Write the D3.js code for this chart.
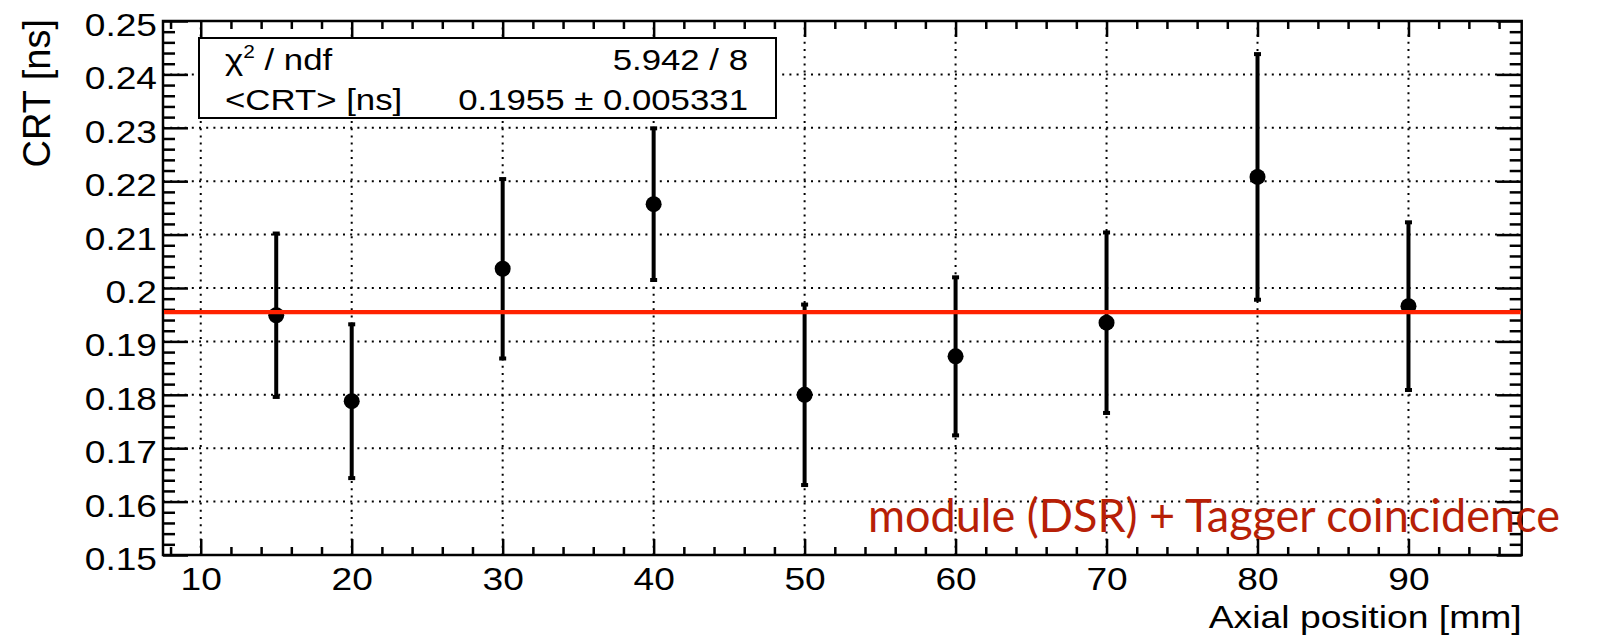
<!DOCTYPE html>
<html>
<head>
<meta charset="utf-8">
<script src="https://cdn.jsdelivr.net/npm/d3@7/dist/d3.min.js"></script>
<style>
  html, body { margin: 0; padding: 0; background: #fff; }
  svg { display: block; }
  text { font-family: "Liberation Sans", Arial, Helvetica, sans-serif; fill: #000; }
  text.caption { font-family: Lato, "Open Sans", sans-serif; fill: #b71f07; }
</style>
</head>
<body>
<script>
// Measured CRT per axial position, with fit of a constant
const positions = [15, 20, 30, 40, 50, 60, 70, 80, 90];
const crtValues = [0.1949, 0.1788, 0.2036, 0.2157, 0.1800, 0.1872, 0.1935, 0.2208, 0.1966];
const crtErrors = [0.0153, 0.0144, 0.0168, 0.0142, 0.0169, 0.0148, 0.0169, 0.0230, 0.0157];

const fitMean = 0.1955;
const fitMeanErr = 0.005331;
const chi2 = 5.942;
const ndf = 8;

const xMajorTicks = [10, 20, 30, 40, 50, 60, 70, 80, 90];
const yMajorTicks = [0.15, 0.16, 0.17, 0.18, 0.19, 0.20, 0.21, 0.22, 0.23, 0.24, 0.25];

const xTitle = "Axial position [mm]";
const yTitle = "CRT [ns]";
const statLabels = ["/ ndf", "<CRT> [ns]"];
const caption = "module (DSR) + Tagger coincidence";

const W = 1599, H = 640;
const frame = { left: 163, right: 1521.7, top: 21, bottom: 555 };
const stretch = 1.16;

const svg = d3.select("body").append("svg").attr("width", W).attr("height", H);

const x = d3.scaleLinear().domain([7.5, 97.5]).range([frame.left, frame.right]);
const y = d3.scaleLinear().domain([0.15, 0.25]).range([frame.bottom, frame.top]);

const xMinorTicks = d3.range(8, 97.5, 2).filter(v => v % 10 !== 0);
const yMinorTicks = d3.range(0, 51).map(i => 0.15 + i * 0.002)
  .filter(v => Math.abs(Math.round(v * 100) - v * 100) > 1e-6);

// dotted grid at the major ticks
const grid = svg.append("g").attr("stroke", "#000").attr("stroke-width", 2)
  .attr("stroke-dasharray", "2,5.2");
grid.selectAll("line.gx").data(xMajorTicks).join("line")
  .attr("x1", d => x(d)).attr("x2", d => x(d))
  .attr("y1", frame.bottom).attr("y2", frame.top);
grid.selectAll("line.gy").data(yMajorTicks.slice(1, -1)).join("line")
  .attr("x1", frame.left).attr("x2", frame.right)
  .attr("y1", d => y(d)).attr("y2", d => y(d));

// tick marks on all four sides, pointing inward
function ticks(axis, translate, values, size) {
  const g = svg.append("g").attr("transform", translate)
    .call(axis.tickValues(values).tickSize(size).tickFormat(""));
  g.select(".domain").remove();
  g.selectAll("line").attr("stroke", "#000").attr("stroke-width", 2.5);
  g.selectAll("text").remove();
  return g;
}
ticks(d3.axisBottom(x), `translate(0,${frame.bottom})`, xMajorTicks, -16);
ticks(d3.axisBottom(x), `translate(0,${frame.bottom})`, xMinorTicks, -8);
ticks(d3.axisTop(x), `translate(0,${frame.top})`, xMajorTicks, -16);
ticks(d3.axisTop(x), `translate(0,${frame.top})`, xMinorTicks, -8);
ticks(d3.axisLeft(y), `translate(${frame.left},0)`, yMajorTicks, -25);
ticks(d3.axisLeft(y), `translate(${frame.left},0)`, yMinorTicks, -12);
ticks(d3.axisRight(y), `translate(${frame.right},0)`, yMajorTicks, -25);
ticks(d3.axisRight(y), `translate(${frame.right},0)`, yMinorTicks, -12);

// tick labels
const xLab = svg.append("g").attr("transform", `translate(0,${frame.bottom})`)
  .call(d3.axisBottom(x).tickValues(xMajorTicks).tickSize(0).tickFormat(d3.format("d")));
xLab.select(".domain").remove();
xLab.selectAll("text").attr("y", 35).attr("dy", null)
  .attr("font-size", 32).attr("fill", "#000")
  .attr("transform", `scale(${stretch},1)`);

const yLab = svg.append("g").attr("transform", `translate(${frame.left},0)`)
  .call(d3.axisLeft(y).tickValues(yMajorTicks).tickSize(0).tickFormat(d => String(+d.toFixed(2))));
yLab.select(".domain").remove();
yLab.selectAll("text").attr("x", -6 / stretch).attr("y", 14.4).attr("dy", null)
  .attr("font-size", 32).attr("fill", "#000")
  .attr("transform", `scale(${stretch},1)`);

// frame
svg.append("rect")
  .attr("x", frame.left).attr("y", frame.top)
  .attr("width", frame.right - frame.left).attr("height", frame.bottom - frame.top)
  .attr("fill", "none").attr("stroke", "#000").attr("stroke-width", 2.5);

// axis titles
svg.append("g").attr("transform", `translate(${frame.right},628) scale(1.166,1)`)
  .append("text").attr("text-anchor", "end").attr("font-size", 32).text(xTitle);
svg.append("g").attr("transform", `translate(50,19) rotate(-90)`)
  .append("text").attr("text-anchor", "end").attr("font-size", 38).text(yTitle);

// data points with error bars
const pts = positions.map((p, i) => ({ p, v: crtValues[i], e: crtErrors[i] }));
const marks = svg.append("g");
marks.selectAll("line.err").data(pts).join("line")
  .attr("x1", d => x(d.p)).attr("x2", d => x(d.p))
  .attr("y1", d => y(d.v - d.e)).attr("y2", d => y(d.v + d.e))
  .attr("stroke", "#000").attr("stroke-width", 4);
marks.selectAll("rect.capTop").data(pts).join("rect")
  .attr("x", d => x(d.p) - 3.5).attr("y", d => y(d.v + d.e) - 2)
  .attr("width", 7).attr("height", 4).attr("fill", "#000");
marks.selectAll("rect.capBot").data(pts).join("rect")
  .attr("class", "capBot")
  .attr("x", d => x(d.p) - 3.5).attr("y", d => y(d.v - d.e) - 2)
  .attr("width", 7).attr("height", 4).attr("fill", "#000");
marks.selectAll("circle").data(pts).join("circle")
  .attr("cx", d => x(d.p)).attr("cy", d => y(d.v)).attr("r", 8).attr("fill", "#000");

// constant fit
svg.append("line")
  .attr("x1", frame.left + 1).attr("x2", frame.right - 1)
  .attr("y1", y(fitMean)).attr("y2", y(fitMean))
  .attr("stroke", "#ff2200").attr("stroke-width", 4.3);

// statistics box
svg.append("rect").attr("x", 199).attr("y", 38).attr("width", 577).attr("height", 80)
  .attr("fill", "#fff").attr("stroke", "#000").attr("stroke-width", 2);
const l1 = svg.append("g").attr("transform", `translate(225,70) scale(${stretch},1)`)
  .append("text").attr("font-size", 30);
l1.append("tspan").text("χ");
l1.append("tspan").attr("font-size", 18).attr("dy", -12).text("2");
l1.append("tspan").attr("dy", 12).text(" " + statLabels[0]);
svg.append("g").attr("transform", `translate(225,109.5) scale(${stretch},1)`)
  .append("text").attr("font-size", 30).text(statLabels[1]);
svg.append("g").attr("transform", `translate(748,70) scale(${stretch},1)`)
  .append("text").attr("font-size", 30).attr("text-anchor", "end")
  .text(`${chi2.toFixed(3)} / ${ndf}`);
svg.append("g").attr("transform", `translate(748,109.5) scale(${stretch},1)`)
  .append("text").attr("font-size", 30).attr("text-anchor", "end")
  .text(`${fitMean.toFixed(4)} ± ${fitMeanErr.toFixed(6)}`);

// caption
svg.append("text")
  .attr("class", "caption")
  .attr("x", 868).attr("y", 531.5)
  .attr("font-size", 46)
  .attr("textLength", 692).attr("lengthAdjust", "spacingAndGlyphs")
  .text(caption);
</script>
</body>
</html>
